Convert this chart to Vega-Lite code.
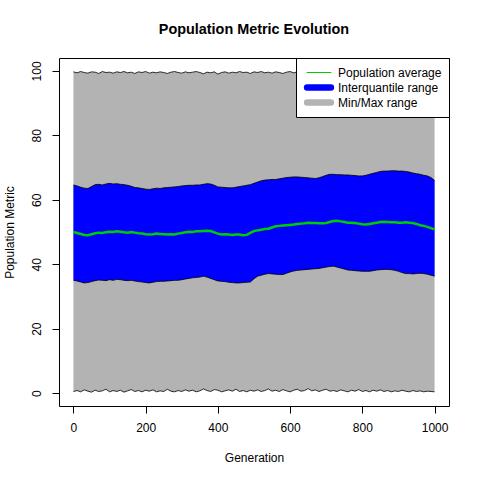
{
  "$schema": "https://vega.github.io/schema/vega-lite/v6.json",
  "autosize": {"type": "none"},
  "padding": {"left": 59, "top": 58, "right": 31, "bottom": 74},
  "width": 390,
  "height": 348,
  "title": {"text": "Population Metric Evolution", "fontSize": 14.4, "fontWeight": "bold", "anchor": "middle", "offset": 20, "color": "black"},
  "config": {
    "font": "Liberation Sans",
    "view": {"stroke": "black", "strokeWidth": 1},
    "axis": {"grid": false, "domain": false, "tickColor": "black", "tickSize": 7, "labelColor": "black", "labelFontSize": 12, "titleFontSize": 12, "titleFontWeight": "normal", "titleColor": "black"}
  },
  "data": {"values": [
    {"g":0,"mn":0.5,"q1":35.0,"m":50.0,"q3":64.6,"mx":99.7},
    {"g":10,"mn":0.8,"q1":34.8,"m":49.7,"q3":64.3,"mx":99.4},
    {"g":20,"mn":0.4,"q1":34.5,"m":49.4,"q3":63.9,"mx":99.8},
    {"g":30,"mn":1.0,"q1":34.2,"m":49.1,"q3":63.6,"mx":99.5},
    {"g":40,"mn":0.6,"q1":34.3,"m":49.0,"q3":63.5,"mx":99.3},
    {"g":50,"mn":0.3,"q1":34.6,"m":49.3,"q3":64.1,"mx":99.7},
    {"g":60,"mn":0.9,"q1":34.9,"m":49.6,"q3":64.7,"mx":99.6},
    {"g":70,"mn":0.5,"q1":35.1,"m":49.8,"q3":64.8,"mx":99.2},
    {"g":80,"mn":0.7,"q1":35.0,"m":49.7,"q3":64.6,"mx":99.8},
    {"g":90,"mn":1.2,"q1":34.9,"m":49.9,"q3":64.9,"mx":99.5},
    {"g":100,"mn":0.4,"q1":35.2,"m":50.1,"q3":65.1,"mx":99.6},
    {"g":110,"mn":0.8,"q1":35.0,"m":50.0,"q3":64.9,"mx":99.3},
    {"g":120,"mn":0.5,"q1":35.3,"m":50.2,"q3":65.0,"mx":99.7},
    {"g":130,"mn":0.9,"q1":35.2,"m":50.1,"q3":64.8,"mx":99.5},
    {"g":140,"mn":0.3,"q1":35.0,"m":49.9,"q3":64.7,"mx":99.8},
    {"g":150,"mn":0.7,"q1":34.9,"m":49.8,"q3":64.5,"mx":99.4},
    {"g":160,"mn":1.1,"q1":35.0,"m":50.0,"q3":64.2,"mx":99.6},
    {"g":170,"mn":0.5,"q1":34.8,"m":49.8,"q3":63.8,"mx":99.2},
    {"g":180,"mn":0.8,"q1":34.6,"m":49.6,"q3":63.7,"mx":99.7},
    {"g":190,"mn":0.4,"q1":34.5,"m":49.5,"q3":63.5,"mx":99.5},
    {"g":200,"mn":0.9,"q1":34.3,"m":49.3,"q3":63.3,"mx":99.8},
    {"g":210,"mn":0.6,"q1":34.2,"m":49.2,"q3":63.2,"mx":99.3},
    {"g":220,"mn":1.0,"q1":34.4,"m":49.3,"q3":63.4,"mx":99.6},
    {"g":230,"mn":0.4,"q1":34.6,"m":49.5,"q3":63.6,"mx":99.4},
    {"g":240,"mn":0.7,"q1":34.7,"m":49.4,"q3":63.5,"mx":99.7},
    {"g":250,"mn":0.5,"q1":34.7,"m":49.3,"q3":63.7,"mx":99.5},
    {"g":260,"mn":1.2,"q1":34.8,"m":49.2,"q3":63.8,"mx":99.2},
    {"g":270,"mn":0.6,"q1":34.9,"m":49.3,"q3":63.9,"mx":99.6},
    {"g":280,"mn":0.4,"q1":35.0,"m":49.2,"q3":64.0,"mx":99.8},
    {"g":290,"mn":0.8,"q1":35.0,"m":49.5,"q3":64.1,"mx":99.5},
    {"g":300,"mn":0.5,"q1":35.2,"m":49.7,"q3":64.3,"mx":99.3},
    {"g":310,"mn":1.0,"q1":35.4,"m":49.9,"q3":64.4,"mx":99.7},
    {"g":320,"mn":0.6,"q1":35.6,"m":50.1,"q3":64.5,"mx":99.4},
    {"g":330,"mn":0.9,"q1":35.8,"m":50.0,"q3":64.5,"mx":99.6},
    {"g":340,"mn":0.4,"q1":35.9,"m":50.2,"q3":64.6,"mx":99.8},
    {"g":350,"mn":0.7,"q1":36.0,"m":50.2,"q3":64.6,"mx":99.5},
    {"g":360,"mn":1.3,"q1":36.3,"m":50.3,"q3":64.8,"mx":99.1},
    {"g":370,"mn":0.8,"q1":36.0,"m":50.4,"q3":65.0,"mx":99.6},
    {"g":380,"mn":0.5,"q1":35.6,"m":50.3,"q3":64.9,"mx":99.4},
    {"g":390,"mn":1.1,"q1":35.2,"m":49.9,"q3":64.5,"mx":99.7},
    {"g":400,"mn":0.9,"q1":34.8,"m":49.5,"q3":64.0,"mx":99.0},
    {"g":410,"mn":0.4,"q1":34.7,"m":49.2,"q3":63.9,"mx":99.5},
    {"g":420,"mn":0.7,"q1":34.6,"m":49.3,"q3":63.8,"mx":99.7},
    {"g":430,"mn":1.0,"q1":34.4,"m":49.2,"q3":63.7,"mx":99.3},
    {"g":440,"mn":0.6,"q1":34.3,"m":49.1,"q3":63.7,"mx":99.6},
    {"g":450,"mn":1.2,"q1":34.2,"m":49.2,"q3":63.9,"mx":99.4},
    {"g":460,"mn":0.5,"q1":34.2,"m":49.2,"q3":64.1,"mx":99.8},
    {"g":470,"mn":0.8,"q1":34.3,"m":49.0,"q3":64.3,"mx":99.5},
    {"g":480,"mn":0.4,"q1":34.4,"m":49.1,"q3":64.5,"mx":99.6},
    {"g":490,"mn":0.9,"q1":34.5,"m":49.7,"q3":64.7,"mx":99.2},
    {"g":500,"mn":0.6,"q1":35.5,"m":50.3,"q3":65.1,"mx":99.7},
    {"g":510,"mn":1.0,"q1":36.3,"m":50.5,"q3":65.5,"mx":99.5},
    {"g":520,"mn":0.5,"q1":36.6,"m":50.7,"q3":65.9,"mx":99.8},
    {"g":530,"mn":0.8,"q1":36.9,"m":50.9,"q3":66.1,"mx":99.4},
    {"g":540,"mn":1.3,"q1":37.1,"m":51.0,"q3":66.2,"mx":99.6},
    {"g":550,"mn":0.6,"q1":37.0,"m":51.4,"q3":66.3,"mx":99.3},
    {"g":560,"mn":0.9,"q1":36.9,"m":51.8,"q3":66.3,"mx":99.7},
    {"g":570,"mn":0.5,"q1":36.8,"m":51.9,"q3":66.5,"mx":99.5},
    {"g":580,"mn":1.1,"q1":36.8,"m":52.0,"q3":66.7,"mx":99.2},
    {"g":590,"mn":0.7,"q1":37.2,"m":52.1,"q3":66.9,"mx":99.6},
    {"g":600,"mn":0.4,"q1":37.6,"m":52.2,"q3":67.0,"mx":99.8},
    {"g":610,"mn":0.9,"q1":37.9,"m":52.3,"q3":67.1,"mx":99.4},
    {"g":620,"mn":1.2,"q1":38.1,"m":52.5,"q3":67.1,"mx":99.7},
    {"g":630,"mn":0.6,"q1":38.2,"m":52.6,"q3":67.0,"mx":99.5},
    {"g":640,"mn":0.8,"q1":38.3,"m":52.7,"q3":66.9,"mx":99.3},
    {"g":650,"mn":1.4,"q1":38.4,"m":52.9,"q3":66.8,"mx":99.6},
    {"g":660,"mn":0.7,"q1":38.5,"m":52.8,"q3":66.7,"mx":99.8},
    {"g":670,"mn":1.0,"q1":38.6,"m":52.8,"q3":66.6,"mx":99.5},
    {"g":680,"mn":0.5,"q1":38.7,"m":52.7,"q3":66.8,"mx":99.7},
    {"g":690,"mn":0.9,"q1":38.9,"m":52.7,"q3":67.2,"mx":99.3},
    {"g":700,"mn":1.2,"q1":39.1,"m":52.8,"q3":67.6,"mx":99.6},
    {"g":710,"mn":0.6,"q1":39.3,"m":53.1,"q3":67.9,"mx":99.4},
    {"g":720,"mn":0.8,"q1":39.4,"m":53.4,"q3":67.9,"mx":99.8},
    {"g":730,"mn":0.5,"q1":39.1,"m":53.5,"q3":67.8,"mx":99.5},
    {"g":740,"mn":1.0,"q1":38.8,"m":53.3,"q3":67.8,"mx":99.7},
    {"g":750,"mn":0.7,"q1":38.5,"m":53.1,"q3":67.7,"mx":99.2},
    {"g":760,"mn":0.4,"q1":38.2,"m":52.9,"q3":67.7,"mx":99.6},
    {"g":770,"mn":0.9,"q1":38.1,"m":52.9,"q3":67.6,"mx":99.4},
    {"g":780,"mn":0.6,"q1":38.0,"m":52.8,"q3":67.5,"mx":99.8},
    {"g":790,"mn":1.1,"q1":37.9,"m":52.6,"q3":67.4,"mx":99.5},
    {"g":800,"mn":0.5,"q1":37.8,"m":52.4,"q3":67.4,"mx":99.7},
    {"g":810,"mn":0.8,"q1":37.8,"m":52.3,"q3":67.6,"mx":99.3},
    {"g":820,"mn":0.4,"q1":37.8,"m":52.5,"q3":67.9,"mx":99.6},
    {"g":830,"mn":0.9,"q1":38.0,"m":52.7,"q3":68.2,"mx":99.8},
    {"g":840,"mn":0.6,"q1":38.2,"m":52.9,"q3":68.5,"mx":99.5},
    {"g":850,"mn":1.0,"q1":38.3,"m":53.1,"q3":68.8,"mx":99.6},
    {"g":860,"mn":0.5,"q1":38.4,"m":53.2,"q3":68.9,"mx":99.4},
    {"g":870,"mn":0.8,"q1":38.4,"m":53.1,"q3":68.9,"mx":99.7},
    {"g":880,"mn":0.4,"q1":38.3,"m":53.0,"q3":69.0,"mx":99.5},
    {"g":890,"mn":0.7,"q1":38.1,"m":53.0,"q3":69.0,"mx":99.8},
    {"g":900,"mn":0.5,"q1":37.8,"m":52.9,"q3":68.9,"mx":99.6},
    {"g":910,"mn":0.9,"q1":37.4,"m":52.9,"q3":68.9,"mx":99.3},
    {"g":920,"mn":0.6,"q1":37.1,"m":53.0,"q3":68.8,"mx":99.7},
    {"g":930,"mn":0.4,"q1":37.1,"m":52.9,"q3":68.6,"mx":99.5},
    {"g":940,"mn":0.8,"q1":37.0,"m":52.8,"q3":68.3,"mx":99.8},
    {"g":950,"mn":0.5,"q1":37.1,"m":52.5,"q3":68.1,"mx":99.6},
    {"g":960,"mn":0.7,"q1":37.2,"m":52.1,"q3":67.9,"mx":99.4},
    {"g":970,"mn":0.4,"q1":37.1,"m":51.9,"q3":67.6,"mx":99.7},
    {"g":980,"mn":0.6,"q1":36.9,"m":51.6,"q3":67.4,"mx":99.5},
    {"g":990,"mn":0.5,"q1":36.6,"m":51.2,"q3":66.9,"mx":99.6},
    {"g":1000,"mn":0.4,"q1":36.3,"m":50.8,"q3":66.0,"mx":99.5}
  ]},
  "encoding": {
    "x": {"field": "g", "type": "quantitative", "scale": {"domain": [-40, 1040], "nice": false, "zero": false},
      "axis": {"values": [0, 200, 400, 600, 800, 1000], "format": "d", "title": "Generation", "labelPadding": 9, "titlePadding": 19}}
  },
  "layer": [
    {
      "mark": {"type": "area"},
      "encoding": {
        "y": {"field": "mn", "type": "quantitative", "scale": {"domain": [-4, 104], "nice": false, "zero": false},
          "axis": {"values": [0, 20, 40, 60, 80, 100], "title": "Population Metric", "labelAngle": -90, "labelAlign": "center", "labelBaseline": "bottom", "labelPadding": 9, "titlePadding": 14}},
        "y2": {"field": "mx"},
        "color": {"datum": "Min/Max range", "type": "nominal",
          "scale": {"domain": ["Population average", "Interquantile range", "Min/Max range"], "range": ["#00CD00", "#0000FF", "#B3B3B3"]},
          "legend": {"title": null, "orient": "top-right", "offset": 0, "padding": 7, "strokeColor": "black", "fillColor": "white",
            "symbolType": "M-1.7,0H1.7", "symbolSize": 196, "symbolOffset": 10, "labelFontSize": 12, "labelColor": "black", "labelOffset": 13, "rowPadding": 0, "clipHeight": 15, "cornerRadius": 0,
            "encode": {"symbols": {"update": {
              "stroke": {"signal": "scale('color', datum.value)"},
              "fill": {"value": "transparent"},
              "strokeWidth": {"signal": "datum.value == 'Population average' ? 1.2 : 6.5"},
              "strokeCap": {"value": "round"},
              "opacity": {"value": 1}
            }}}}
        }
      }
    },
    {"mark": {"type": "line", "color": "black", "strokeWidth": 0.8}, "encoding": {"y": {"field": "mn", "type": "quantitative"}}},
    {"mark": {"type": "line", "color": "black", "strokeWidth": 0.8}, "encoding": {"y": {"field": "mx", "type": "quantitative"}}},
    {
      "mark": {"type": "area"},
      "encoding": {
        "y": {"field": "q1", "type": "quantitative"},
        "y2": {"field": "q3"},
        "color": {"datum": "Interquantile range", "type": "nominal"}
      }
    },
    {"mark": {"type": "line", "color": "black", "strokeWidth": 0.8}, "encoding": {"y": {"field": "q1", "type": "quantitative"}}},
    {"mark": {"type": "line", "color": "black", "strokeWidth": 0.8}, "encoding": {"y": {"field": "q3", "type": "quantitative"}}},
    {
      "mark": {"type": "line", "strokeWidth": 2.5},
      "encoding": {
        "y": {"field": "m", "type": "quantitative"},
        "color": {"datum": "Population average", "type": "nominal"}
      }
    }
  ]
}
